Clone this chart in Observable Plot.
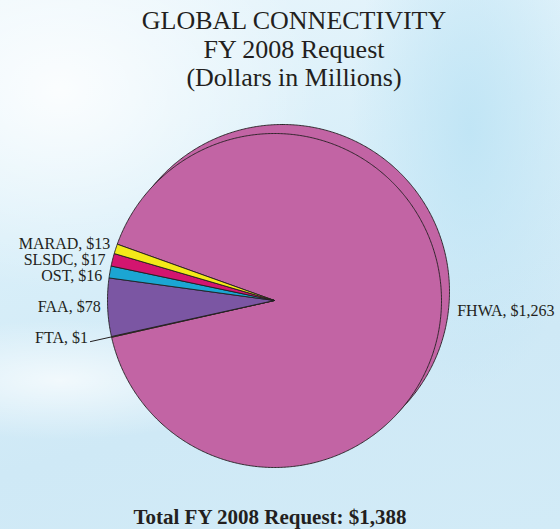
<!DOCTYPE html>
<html>
<head>
<meta charset="utf-8">
<script src="https://cdn.jsdelivr.net/npm/d3@7"></script>
<script src="https://cdn.jsdelivr.net/npm/@observablehq/plot@0.6"></script>
<style>
  html, body { margin: 0; padding: 0; }
  #wrap {
    position: relative; width: 560px; height: 529px; overflow: hidden;
    background:
      radial-gradient(ellipse 260px 200px at 60px 90px, rgba(255,255,255,0.85), rgba(255,255,255,0) 100%),
      radial-gradient(ellipse 120px 260px at 470px 130px, rgba(190,228,245,0.9), rgba(190,228,245,0) 100%),
      radial-gradient(ellipse 200px 60px at 60px 380px, rgba(255,255,255,0.7), rgba(255,255,255,0) 100%),
      linear-gradient(165deg, #eaf6fc 0%, #d9eff9 35%, #cfe9f6 70%, #d2ebf7 100%);
    font-family: "Liberation Serif", "Times New Roman", serif;
    color: #231f20;
  }
  #title {
    position: absolute; top: 7px; left: 28px; width: 532px;
    text-align: center; font-size: 26px; line-height: 28.5px;
  }
  #chart { position: absolute; top: 100px; left: 0; }
  #footer {
    position: absolute; top: 507px; left: 0; width: 540px;
    text-align: center; font-size: 21px; line-height: 21px; font-weight: bold;
  }
</style>
</head>
<body>
<div id="wrap">
  <div id="title"></div>
  <div id="chart"></div>
  <div id="footer"></div>
</div>
<script>
// ---- data ----
const titleLines = ["GLOBAL CONNECTIVITY", "FY 2008 Request", "(Dollars in Millions)"];
const agencies = ["FHWA", "FTA", "FAA", "OST", "SLSDC", "MARAD"];
const amounts = [1263, 1, 78, 16, 17, 13];
const sliceColors = ["#c264a4", "#f3e919", "#7b56a3", "#1ba6d3", "#d3156f", "#f3e919"];
const footerPrefix = "Total FY 2008 Request: ";

// ---- layout options ----
const W = 560, H = 380, R = 167, CX = 274, CY = 200;
const startAngleDeg = -70.3;
const ink = "#231f20";
const serif = "Liberation Serif, Times New Roman, serif";
const fmt = d3.format(",");

document.getElementById("title").innerHTML = titleLines.map(t => `<div>${t}</div>`).join("");
document.getElementById("footer").textContent = footerPrefix + "$" + fmt(d3.sum(amounts));

const rows = agencies.map((a, i) => ({agency: a, amount: amounts[i], color: sliceColors[i],
  label: `${a}, $${fmt(amounts[i])}`}));
const total = d3.sum(amounts);
const s0 = startAngleDeg * Math.PI / 180;
const arcs = d3.pie().sort(null).value(d => d.amount).startAngle(s0).endAngle(s0 + 2 * Math.PI)(rows);

function arcPoints(a0, a1, withCenter, ox = 0, oy = 0) {
  const pts = [];
  if (withCenter) pts.push({x: ox, y: oy});
  const steps = Math.max(2, Math.ceil((a1 - a0) / (Math.PI / 360)));
  for (let j = 0; j <= steps; j++) {
    const a = a0 + (a1 - a0) * j / steps;
    pts.push({x: ox + Math.sin(a), y: oy + Math.cos(a)});
  }
  if (withCenter) pts.push({x: ox, y: oy});
  return pts;
}

// back layer (depth effect)
const back = arcPoints(0, 2 * Math.PI, false, 8 / R, 9 / R);

// labels
const leftLabels = [], rightLabels = [], leaders = [];
arcs.forEach(d => {
  const a = (d.startAngle + d.endAngle) / 2;
  const px = Math.sin(a), py = Math.cos(a);
  const tiny = d.data.amount / total < 0.005;
  if (tiny) {
    const k = 1 + 22 / R;
    leaders.push({x1: px, y1: py, x2: px * k, y2: py * k});
    leftLabels.push({x: px * k - 2 / R, y: py * k + 4 / R, text: d.data.label, fixed: true});
  } else if (px < 0) {
    leftLabels.push({y: py, text: d.data.label, fixed: false});
  } else {
    rightLabels.push({x: Math.sqrt(1 - py * py) + 16 / R, y: py, text: d.data.label});
  }
});
// spread non-fixed left labels vertically
const gap = 16 / R;
const movable = leftLabels.filter(d => !d.fixed).sort((a, b) => b.y - a.y);
for (let it = 0; it < 200; it++) {
  for (let i = 1; i < movable.length; i++) {
    const o = gap - (movable[i - 1].y - movable[i].y);
    if (o > 0) { movable[i - 1].y += o / 2; movable[i].y -= o / 2; }
  }
}
movable.forEach(d => { d.x = -Math.sqrt(Math.max(0, 1 - d.y * d.y)) - 7 / R; });

const marks = [
  Plot.line(back, {x: "x", y: "y", fill: sliceColors[0], stroke: ink, strokeWidth: 0.9, strokeLinejoin: "round"}),
  ...arcs.map(d => Plot.line(arcPoints(d.startAngle, d.endAngle, true),
    {x: "x", y: "y", fill: d.data.color, stroke: ink, strokeWidth: 0.9, strokeLinejoin: "round"})),
  Plot.link(leaders, {x1: "x1", y1: "y1", x2: "x2", y2: "y2", stroke: ink, strokeWidth: 1}),
  Plot.text(leftLabels, {x: "x", y: "y", text: "text", textAnchor: "end", fontSize: 16, fontFamily: serif, fill: ink}),
  Plot.text(rightLabels, {x: "x", y: "y", text: "text", textAnchor: "start", fontSize: 16, fontFamily: serif, fill: ink})
];

const chart = Plot.plot({
  width: W, height: H, margin: 0,
  x: {domain: [-CX / R, (W - CX) / R], axis: null},
  y: {domain: [-(H - CY) / R, CY / R], axis: null},
  style: {background: "transparent", overflow: "visible"},
  marks
});
document.getElementById("chart").appendChild(chart);
</script>
</body>
</html>
